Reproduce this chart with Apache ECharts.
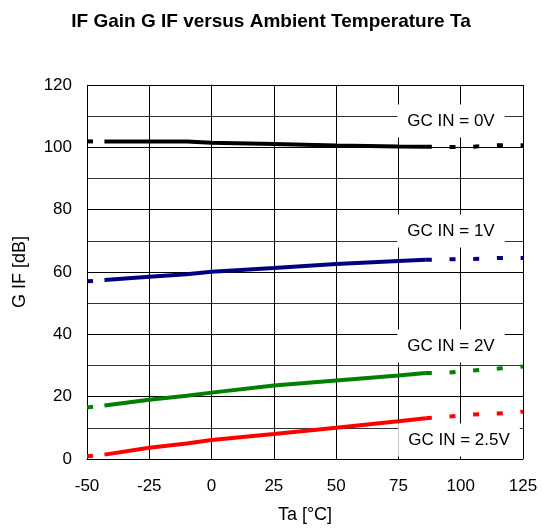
<!DOCTYPE html>
<html><head><meta charset="utf-8">
<script src="https://cdn.jsdelivr.net/npm/echarts@6/dist/echarts.min.js"></script>
<style>html,body{margin:0;padding:0;background:#fff}#c{width:542px;height:529px}</style>
</head><body><div id="c"></div>
<script>
// Temperatures (°C)
const tLeft = [-50, -43];
const tSolid = [-43, -25, -10, 0, 25, 50, 75, 86];
const tRight = [86, 95, 105, 115, 125];
// GC IN = 0V
const g0Left = [101.9, 101.9];
const g0Solid = [101.9, 101.9, 101.9, 101.5, 101.1, 100.6, 100.3, 100.2];
const g0Right = [100.2, 100.1, 100.2, 100.7, 100.7];
// GC IN = 1V
const g1Left = [57.0, 57.4];
const g1Solid = [57.4, 58.5, 59.3, 60.1, 61.3, 62.6, 63.5, 63.9];
const g1Right = [63.9, 64.1, 64.2, 64.5, 64.5];
// GC IN = 2V
const g2Left = [16.5, 17.2];
const g2Solid = [17.2, 19.0, 20.3, 21.3, 23.6, 25.2, 26.8, 27.6];
const g2Right = [27.6, 27.7, 28.4, 29.0, 29.7];
// GC IN = 2.5V
const g25Left = [0.9, 1.4];
const g25Solid = [1.4, 3.6, 5.0, 6.1, 8.0, 10.0, 12.1, 13.1];
const g25Right = [13.1, 13.6, 14.3, 14.6, 15.2];

const xTicks = [-50, -25, 0, 25, 50, 75, 100, 125];
const yTicks = [0, 20, 40, 60, 80, 100, 120];
const labels = ['GC IN = 0V', 'GC IN = 1V', 'GC IN = 2V', 'GC IN = 2.5V'];
const colors = ['#000000', '#000080', '#008000', '#ff0000'];

const FONT = '"Liberation Sans", Arial, sans-serif';
const zip = (xs, ys) => xs.map((x, i) => [x, ys[i]]);
const groups = [
  [g0Left, g0Solid, g0Right],
  [g1Left, g1Solid, g1Right],
  [g2Left, g2Solid, g2Right],
  [g25Left, g25Solid, g25Right]
];
const series = [];
groups.forEach((g, i) => {
  const c = colors[i];
  series.push({type: 'line', data: zip(tLeft, g[0]), showSymbol: false, silent: true,
    lineStyle: {color: c, width: 4, type: [6, 17.7], cap: 'butt'}});
  series.push({type: 'line', data: zip(tSolid, g[1]), showSymbol: false, silent: true,
    lineStyle: {color: c, width: 4, cap: 'butt'}});
  series.push({type: 'line', data: zip(tRight, g[2]), showSymbol: false, silent: true,
    lineStyle: {color: c, width: 4, type: [6, 17.7], cap: 'butt'}});
});

const chart = echarts.init(document.getElementById('c'));
const labelPos = [[451, 121], [451, 231], [451, 346], [459, 440]];
chart.setOption({
  animation: false,
  backgroundColor: '#fff',
  title: {text: 'IF Gain G IF versus Ambient Temperature Ta', left: 'center', top: 7,
    textStyle: {fontFamily: FONT, fontSize: 19, fontWeight: 'bold', color: '#000'}},
  grid: {left: 87, right: 19, top: 85, bottom: 69},
  xAxis: {type: 'value', min: xTicks[0], max: xTicks[xTicks.length - 1], interval: 25,
    name: 'Ta [°C]', nameLocation: 'middle', nameGap: 47,
    nameTextStyle: {fontFamily: FONT, fontSize: 18, color: '#000'},
    axisLine: {lineStyle: {color: '#000', width: 1}}, axisTick: {show: false},
    axisLabel: {fontFamily: FONT, fontSize: 17, color: '#000', margin: 19},
    splitLine: {show: true, lineStyle: {color: '#000', width: 1}}},
  yAxis: {type: 'value', min: yTicks[0], max: yTicks[yTicks.length - 1], interval: 20,
    name: 'G IF [dB]', nameLocation: 'middle', nameGap: 58,
    nameTextStyle: {fontFamily: FONT, fontSize: 18, color: '#000'},
    axisLine: {show: true, lineStyle: {color: '#000', width: 1}}, axisTick: {show: false},
    axisLabel: {fontFamily: FONT, fontSize: 17, color: '#000', margin: 15},
    splitLine: {show: true, lineStyle: {color: '#000', width: 1}},
    minorTick: {show: false, splitNumber: 2},
    minorSplitLine: {show: true, lineStyle: {color: '#333', width: 1}}},
  series: series,
  graphic: labels.map((t, i) => ({
    type: 'text', x: labelPos[i][0], y: labelPos[i][1], z: 100,
    style: {text: t, fontFamily: FONT, fontSize: 17, fill: '#000', align: 'center',
      verticalAlign: 'middle', backgroundColor: '#fff', padding: [8, 10, 8, 10]}
  }))
});
</script></body></html>
